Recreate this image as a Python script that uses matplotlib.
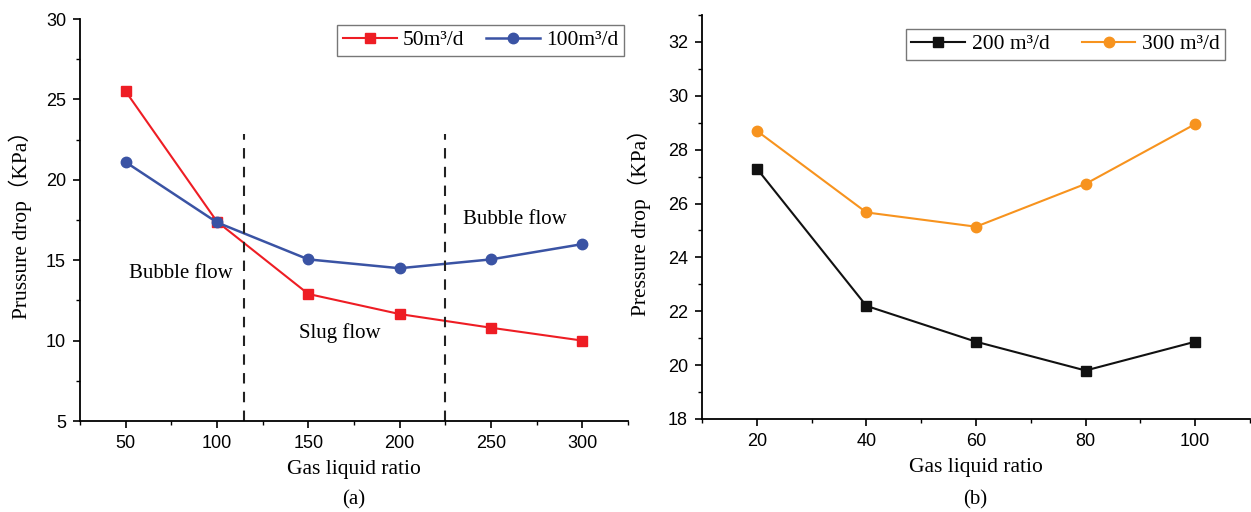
import matplotlib
matplotlib.use("Agg")
import matplotlib.pyplot as plt
from matplotlib.ticker import MultipleLocator

# Panel (a) data
glr_a = [50, 100, 150, 200, 250, 300]
dp_50 = [25.5, 17.4, 12.9, 11.65, 10.8, 10.0]
dp_100 = [21.1, 17.35, 15.05, 14.5, 15.05, 16.0]
boundaries_a = [115, 225]
regions_a = ["Bubble flow", "Slug flow", "Bubble flow"]

# Panel (b) data
glr_b = [20, 40, 60, 80, 100]
dp_200 = [27.3, 22.2, 20.87, 19.8, 20.87]
dp_300 = [28.7, 25.67, 25.14, 26.73, 28.95]

SERIF = ["Liberation Serif", "Noto Sans CJK SC", "DejaVu Serif"]
SANS = "Liberation Sans"

W, H = 1251, 512
fig = plt.figure(figsize=(W / 100, H / 100), dpi=100)

def px_axes(l, t, r, b):
    return fig.add_axes([l / W, 1 - b / H, (r - l) / W, (b - t) / H])

def style(ax):
    for s in ("top", "right"):
        ax.spines[s].set_visible(False)
    for s in ("left", "bottom"):
        ax.spines[s].set_linewidth(1.3)
    ax.tick_params(which="major", direction="out", length=5, width=1.2,
                   labelsize=13, pad=5)
    ax.tick_params(which="minor", direction="out", length=3, width=1.0)
    for lab in ax.get_xticklabels() + ax.get_yticklabels():
        lab.set_fontfamily(SANS)

def legend_px(ax, r, t, colsp):
    leg = ax.legend(loc="upper right", ncol=2,
                    bbox_to_anchor=(r / W, 1 - t / H),
                    bbox_transform=fig.transFigure,
                    prop={"family": SERIF, "size": 15.5}, frameon=True,
                    fancybox=False, edgecolor="#555555", handlelength=2.5,
                    columnspacing=colsp, handletextpad=0.3, borderpad=0.25,
                    borderaxespad=0)
    leg.get_frame().set_linewidth(1.0)
    return leg

# ---------- (a) ----------
ax1 = px_axes(80, 19, 628, 421)
ax1.plot(glr_a, dp_50, color="#ee1d24", marker="s", markersize=7, lw=1.5,
         label="50m³/d")
ax1.plot(glr_a, dp_100, color="#3a53a4", marker="o", markersize=7.5, lw=1.8,
         label="100m³/d")
for xb in boundaries_a:
    ax1.plot([xb, xb], [5, 22.85], ls=(0, (5, 4)), color="#222222", lw=1.5)
ax1.text(80, 14.15, regions_a[0], ha="center", va="center", fontsize=15,
         family=SERIF)
ax1.text(167, 10.45, regions_a[1], ha="center", va="center", fontsize=15,
         family=SERIF)
ax1.text(263, 17.5, regions_a[2], ha="center", va="center", fontsize=15,
         family=SERIF)
ax1.set_xlim(25, 325)
ax1.set_ylim(5, 30)
ax1.xaxis.set_minor_locator(MultipleLocator(25))
ax1.yaxis.set_major_locator(MultipleLocator(5))
ax1.yaxis.set_minor_locator(MultipleLocator(2.5))
ax1.set_xticks(glr_a)
style(ax1)
ax1.set_xlabel("Gas liquid ratio", fontsize=15.5, family=SERIF, labelpad=6)
ax1.set_ylabel("Prussure drop（KPa）", fontsize=15.5, family=SERIF)
ax1.yaxis.set_label_coords(-0.088, 0.5)
legend_px(ax1, 624, 25, 1.0)
fig.text(354 / W, 1 - 500 / H, "(a)", ha="center", va="center", fontsize=15,
         family=SERIF)

# ---------- (b) ----------
ax2 = px_axes(702, 15, 1250, 419)
ax2.plot(glr_b, dp_200, color="#111111", marker="s", markersize=7, lw=1.5,
         label="200 m³/d")
ax2.plot(glr_b, dp_300, color="#f7931e", marker="o", markersize=7.5, lw=1.5,
         label="300 m³/d")
ax2.set_xlim(10, 110)
ax2.set_ylim(18, 33)
ax2.set_xticks(glr_b)
ax2.xaxis.set_minor_locator(MultipleLocator(10))
ax2.yaxis.set_major_locator(MultipleLocator(2))
ax2.yaxis.set_minor_locator(MultipleLocator(1))
style(ax2)
ax2.set_xlabel("Gas liquid ratio", fontsize=15.5, family=SERIF, labelpad=6)
ax2.set_ylabel("Pressure drop（KPa）", fontsize=15.5, family=SERIF)
ax2.yaxis.set_label_coords(-0.093, 0.5)
legend_px(ax2, 1225, 29, 1.5)
fig.text(975 / W, 1 - 500 / H, "(b)", ha="center", va="center", fontsize=15,
         family=SERIF)

fig.savefig("out.png", dpi=100)
